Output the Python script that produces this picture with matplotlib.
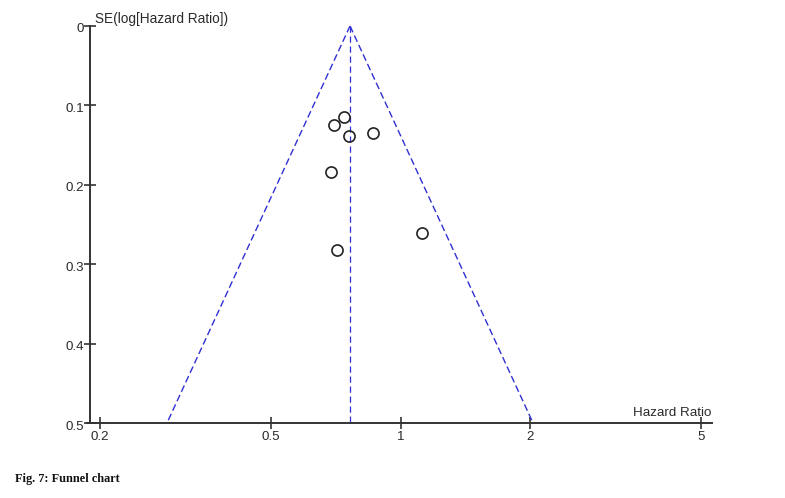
import numpy as np
import matplotlib
matplotlib.use("Agg")
import matplotlib.pyplot as plt
import matplotlib.transforms as mtransforms

# study estimates
hazard_ratio = [0.740, 0.701, 0.759, 0.861, 0.688, 1.121, 0.710]
se_log_hr = [0.114, 0.125, 0.139, 0.135, 0.184, 0.261, 0.282]
pooled_hr = 0.763
x_ticks = [0.2, 0.5, 1, 2, 5]
x_ticklabels = ["0.2", "0.5", "1", "2", "5"]
y_ticks = [0, 0.1, 0.2, 0.3, 0.4, 0.5]
y_ticklabels = ["0", "0.1", "0.2", "0.3", "0.4", "0.5"]

plt.rcParams['font.family'] = ['Liberation Sans', 'DejaVu Sans']

fig = plt.figure(figsize=(7.85, 4.98), dpi=100)
ax = fig.add_axes([87/785, 75/498, 625/785, 397/498])
ax.set_xscale('log')
ax.set_xlim(0.1866, 5.30)
ax.set_ylim(0.5, 0)

# funnel (95% pseudo confidence limits)
se = np.array([0, 0.5])
blue = '#3030d2'
ax.plot(pooled_hr*np.exp(-1.96*se), se, '--', color=blue, lw=1.0, dashes=(5, 2.5))
ax.plot(pooled_hr*np.exp(1.96*se), se, '--', color=blue, lw=1.0, dashes=(5, 2.5))
ax.plot([pooled_hr, pooled_hr], [0, 0.5], '--', color=blue, lw=0.9, dashes=(5, 3))

ax.plot(hazard_ratio, se_log_hr, 'o', mfc='none', mec='#222222', ms=8, mew=1.2)

for s in ['top', 'right']:
    ax.spines[s].set_visible(False)
ax.spines['left'].set_position(('data', 0.1896))
ax.spines['left'].set_bounds(0, 0.5)
for s in ['left', 'bottom']:
    ax.spines[s].set_linewidth(1.4)
    ax.spines[s].set_color('#333333')

ax.set_xticks(x_ticks)
ax.set_xticklabels(x_ticklabels)
ax.xaxis.set_minor_locator(matplotlib.ticker.NullLocator())
ax.set_yticks(y_ticks)
ax.set_yticklabels(y_ticklabels)
ax.tick_params(axis='both', direction='inout', length=9, width=1.2,
               color='#333333', labelsize=9.6, labelcolor='#2a2a2a')
ax.tick_params(axis='x', pad=1)
ax.tick_params(axis='y', pad=0)

# y tick labels sit a little below their ticks
shift = mtransforms.ScaledTranslation(0, -2/100, fig.dpi_scale_trans)
for lab in ax.get_yticklabels():
    lab.set_transform(lab.get_transform() + shift)

ax.text(0.195, 0.0, "SE(log[Hazard Ratio])", fontsize=9.8, color='#2a2a2a',
        ha='left', va='bottom')
ax.text(5.28, 0.495, "Hazard Ratio", fontsize=9.6, color='#2a2a2a',
        ha='right', va='bottom')

fig.text(15/785, 1 - 479/498, "Fig. 7: Funnel chart", fontsize=8.8, fontweight='bold',
         family=['Liberation Serif', 'DejaVu Serif'], color='#111111', va='center')

plt.savefig('out.png', dpi=100)
